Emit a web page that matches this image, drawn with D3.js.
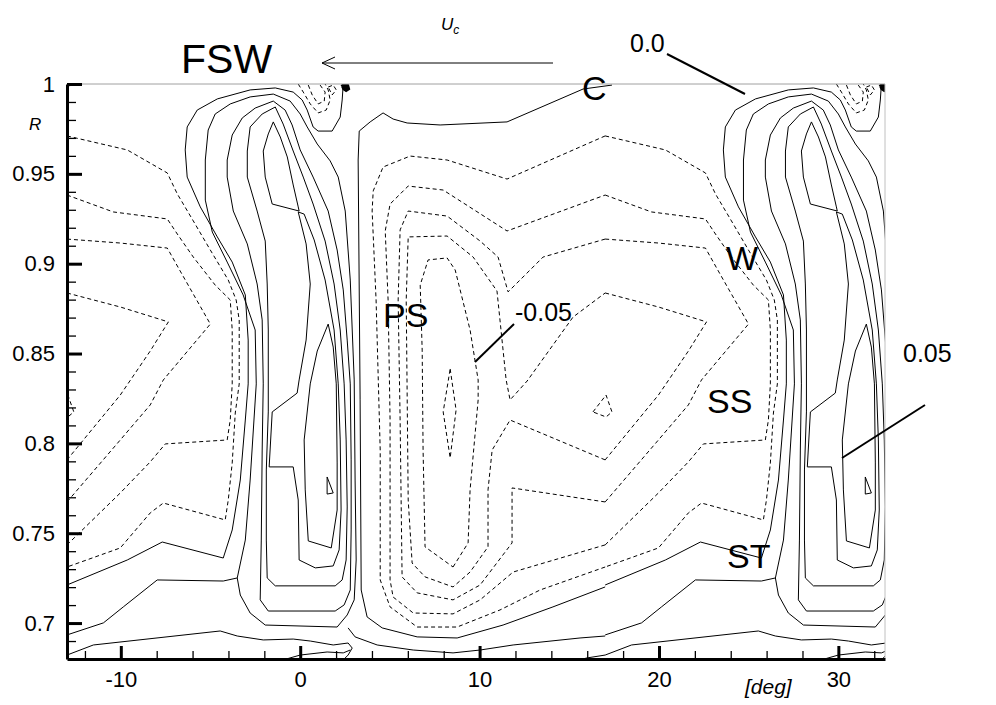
<!DOCTYPE html>
<html>
<head>
<meta charset="utf-8">
<script src="https://cdn.jsdelivr.net/npm/d3@7"></script>
<style>
  body { margin: 0; background: #fff; }
  svg text { font-family: "Liberation Sans", Arial, Helvetica, sans-serif; fill: #000; }
</style>
</head>
<body>
<svg id="chart" width="996" height="705"></svg>
<script>
// field is periodic in theta (one blade pitch), contours traced over [-13, 17] deg
var pitch = 30;
var xMajor = [-10, 0, 10, 20, 30];
var yMajor = [0.7, 0.75, 0.8, 0.85, 0.9, 0.95, 1];

// negative levels (dashed), [deg, R]
var negXa = [[-13,0.9711],[-9.64,0.9633],[-7.41,0.9505],[-6.85,0.9388],[-5.96,0.9238],[-5.01,0.9076],[-4.01,0.8909],[-3.57,0.8798],[-3.40,0.8687],[-3.40,0.8331],[-3.62,0.8169],[-3.79,0.7891],[-4.01,0.7685],[-4.18,0.7574],[-7.63,0.7668],[-8.36,0.7613],[-10.03,0.7418],[-13,0.7312]];
var negXb = [[17,0.7312],[13.37,0.7184],[11.14,0.7073],[8.75,0.6978],[6.52,0.6978],[5.01,0.7090],[4.46,0.7240],[4.46,0.7963],[4.23,0.8798],[4.01,0.9293],[4.07,0.9405],[4.62,0.9538],[6.13,0.9599],[8.19,0.9577],[11.53,0.9471],[17,0.9711]];
var negYa = [[-13,0.9382],[-10.42,0.9288],[-7.41,0.9249],[-6.85,0.9165],[-5.96,0.9037],[-4.74,0.8881],[-3.90,0.8798],[-3.79,0.8631],[-3.79,0.8331],[-3.90,0.8130],[-4.07,0.8019],[-7.52,0.7997],[-8.36,0.7897],[-10.03,0.7724],[-13,0.7435]];
var negYb = [[17,0.7435],[11.87,0.7284],[10.03,0.7129],[8.52,0.7051],[6.30,0.7056],[5.18,0.7145],[5.01,0.7240],[5.01,0.8130],[4.90,0.8798],[4.74,0.9182],[5.01,0.9332],[6.02,0.9432],[7.97,0.9410],[11.53,0.9182],[17,0.9382]];
var negZa = [[-13,0.9137],[-10.03,0.9115],[-7.41,0.9087],[-6.69,0.8959],[-5.01,0.8664],[-7.63,0.8353],[-8.36,0.8214],[-10.03,0.8019],[-13,0.7674]];
var negZb = [[17,0.7674],[11.81,0.7752],[11.81,0.7446],[10.03,0.7212],[8.52,0.7129],[6.52,0.7168],[5.68,0.7257],[5.57,0.8130],[5.46,0.8798],[5.57,0.9188],[6.02,0.9293],[8.19,0.9265],[10.03,0.9126],[11.03,0.9037],[11.59,0.8843],[13.54,0.9037],[17,0.9137]];
var negVa = [[-13,0.8837],[-10.03,0.8759],[-7.35,0.8676],[-8.36,0.8514],[-10.03,0.8269],[-13,0.7908]];
var negVb = [[17,0.7908],[11.70,0.8130],[10.70,0.7963],[10.47,0.7741],[10.47,0.7424],[9.47,0.7284],[8.52,0.7201],[6.96,0.7257],[6.24,0.7334],[6.02,0.7685],[5.91,0.8798],[6.02,0.9149],[8.19,0.9154],[9.64,0.9037],[10.97,0.8848],[11.48,0.8353],[11.70,0.8242],[12.65,0.8347],[15.21,0.8703],[17,0.8837]];
var negPS = [[8.52,0.7312],[9.36,0.7446],[9.47,0.7741],[9.92,0.8242],[9.92,0.8353],[9.47,0.8631],[8.64,0.8965],[8.19,0.9032],[7.13,0.9021],[6.69,0.8881],[6.80,0.8519],[6.85,0.7963],[6.96,0.7424],[8.52,0.7312]];
var negMin = [[8.36,0.8414],[8.69,0.8186],[8.36,0.7919],[7.97,0.8175],[8.36,0.8414]];
var negSS = [[16.32,0.8175],[17.05,0.8269],[17.38,0.8175],[17.05,0.8147],[16.32,0.8175]];
var negTip1 = [[-0.11,1.0],[0.17,0.9955],[0.56,0.9889],[1.00,0.9839],[1.45,0.9855],[1.67,0.9911],[1.56,0.9967],[1.39,1.0]];
var negTip2 = [[0.45,0.9994],[0.67,0.9939],[1.00,0.9889],[1.34,0.9905],[1.39,0.9955],[1.11,0.9994]];
var negTip3 = [[1.56,0.9983],[1.84,0.9994],[2.01,0.9967],[1.78,0.9939],[1.56,0.9983]];

// zero and positive levels (solid)
var zeroWake = [[2.40,1.0],[2.34,0.9911],[2.23,0.9816],[1.78,0.9738],[1.00,0.9738],[0.72,0.9761],[0.39,0.9855],[0.11,0.9911],[-0.39,0.9955],[-1.39,0.9978],[-2.79,0.9967],[-4.62,0.9917],[-5.74,0.9855],[-6.30,0.9761],[-6.41,0.9633],[-6.30,0.9482],[-5.57,0.9316],[-4.62,0.9149],[-3.79,0.9009],[-3.06,0.8826],[-2.90,0.8575],[-2.90,0.8331],[-3.06,0.8130],[-3.34,0.7796],[-3.79,0.7518],[-4.29,0.7362],[-7.69,0.7451],[-9.64,0.7351],[-13,0.7212]];
var zeroPS = [[17,0.7201],[14.09,0.7090],[11.31,0.6989],[8.75,0.6917],[6.52,0.6923],[4.57,0.6973],[3.73,0.7034],[3.40,0.7184],[3.34,0.8242],[3.23,0.9577],[3.29,0.9738],[3.90,0.9789],[4.62,0.9839],[5.18,0.9805],[5.96,0.9783],[7.80,0.9772],[11.53,0.9789],[15.77,0.9972],[17.38,0.9994]];
var pos1Wake = [[-3.51,0.7251],[-3.06,0.7462],[-2.79,0.7796],[-2.45,0.8331],[-2.51,0.8631],[-3.18,0.8826],[-4.07,0.9009],[-4.90,0.9176],[-5.29,0.9354],[-5.29,0.9577],[-5.13,0.9744],[-4.74,0.9833],[-3.90,0.9889],[-2.79,0.9928],[-1.50,0.9944],[-0.56,0.9905],[0,0.9833],[0.39,0.9761],[0.95,0.9666],[1.67,0.9572],[2.12,0.9482],[2.51,0.9293],[2.79,0.8909],[3.01,0.8353],[3.06,0.7796],[3.12,0.7351],[3.01,0.7129],[2.62,0.7045],[2.06,0.6978],[-1.95,0.6989],[-2.79,0.7056],[-3.34,0.7156],[-3.51,0.7251]];
var pos1Hub = [[-13,0.6934],[-10.97,0.7001],[-9.86,0.7090],[-7.97,0.7240],[-4.29,0.7234],[-3.51,0.7251]];
var pos1HubPS = [[2.67,0.6973],[3.06,0.6923],[4.29,0.6878],[6.30,0.6850],[8.52,0.6834],[10.03,0.6850],[11.87,0.6878],[15.60,0.6917],[17,0.6928]];
var pos2Hub = [[-13,0.6822],[-11.53,0.6878],[-4.46,0.6956],[-3.51,0.6928],[-2.06,0.6906],[-0.39,0.6911],[0.56,0.6900],[1.84,0.6878],[2.67,0.6889],[2.90,0.6861],[2.67,0.6822],[2.40,0.6795]];
var pos2HubPS = [[15.32,0.6789],[15.99,0.6806],[17,0.6822]];
var pos3Hub = [[-0.95,0.6795],[0,0.6822],[1.50,0.6839],[2.40,0.6834],[2.79,0.6850]];
var pos2Wake = [[-4.07,0.9577],[-3.79,0.9716],[-3.23,0.9811],[-2.51,0.9866],[-1.50,0.9905],[-0.84,0.9855],[-0.45,0.9772],[0,0.9633],[0.72,0.9482],[1.56,0.9293],[2.06,0.9076],[2.40,0.8854],[2.62,0.8575],[2.79,0.8331],[2.84,0.7908],[2.84,0.7518],[2.79,0.7184],[2.45,0.7101],[1.95,0.7067],[-1.78,0.7067],[-2.23,0.7129],[-2.17,0.7462],[-2.12,0.7963],[-2.06,0.8331],[-2.12,0.8687],[-2.40,0.8887],[-2.95,0.9110],[-3.73,0.9293],[-4.07,0.9482],[-4.07,0.9577]];
var pos3Wake = [[-1.39,0.9872],[-0.95,0.9777],[-0.39,0.9627],[0.17,0.9482],[0.72,0.9332],[1.39,0.9126],[1.89,0.8887],[2.23,0.8631],[2.45,0.8331],[2.56,0.8019],[2.62,0.7646],[2.56,0.7351],[2.34,0.7240],[1.95,0.7207],[-1.39,0.7207],[-1.84,0.7251],[-1.89,0.7462],[-1.89,0.7852],[-1.78,0.8175],[-1.78,0.8631],[-1.84,0.8887],[-1.95,0.9126],[-2.40,0.9293],[-2.95,0.9482],[-2.95,0.9627],[-2.79,0.9761],[-2.12,0.9833],[-1.39,0.9872]];
var pos4Tip = [[-1.50,0.9789],[-1.11,0.9705],[-0.72,0.9594],[-0.39,0.9438],[-0.11,0.9316],[-0.06,0.9293],[-1.56,0.9332],[-1.95,0.9482],[-2.06,0.9627],[-1.78,0.9722],[-1.50,0.9789]];
var pos4Hub = [[-0.11,0.9288],[0.33,0.9110],[0.56,0.8887],[0.33,0.8575],[-0.06,0.8353],[-0.17,0.8280],[-1.56,0.8175],[-1.73,0.7869],[-0.39,0.7869],[-0.11,0.7685],[-0.06,0.7351],[0.84,0.7307],[1.84,0.7318],[2.17,0.7407],[2.28,0.7629],[2.23,0.8019],[2.12,0.8331],[1.89,0.8631],[1.39,0.8909],[0.78,0.9132],[0.22,0.9276],[-0.11,0.9288]];
var pos5 = [[1.56,0.8664],[1.84,0.8536],[2.01,0.8331],[2.06,0.7891],[2.06,0.7629],[1.73,0.7418],[0.45,0.7457],[0.28,0.7741],[0.22,0.8019],[0.56,0.8331],[0.95,0.8514],[1.56,0.8664]];
var pos6 = [[1.50,0.7813],[1.84,0.7724],[1.50,0.7718],[1.50,0.7813]];
var tipBlob = [[2.28,0.9989],[2.45,1.0],[2.67,0.9994],[2.73,0.9972],[2.56,0.9961],[2.40,0.9972],[2.34,0.9985]];

var contours = [
  {neg: true, p: negXa}, {neg: true, p: negXb}, {neg: true, p: negYa}, {neg: true, p: negYb},
  {neg: true, p: negZa}, {neg: true, p: negZb}, {neg: true, p: negVa}, {neg: true, p: negVb},
  {neg: true, p: negPS}, {neg: true, p: negMin}, {neg: true, p: negSS},
  {neg: true, p: negTip1}, {neg: true, p: negTip2}, {neg: true, p: negTip3},
  {neg: false, p: zeroWake}, {neg: false, p: zeroPS},
  {neg: false, p: pos1Wake}, {neg: false, p: pos1Hub}, {neg: false, p: pos1HubPS},
  {neg: false, p: pos2Hub}, {neg: false, p: pos2HubPS}, {neg: false, p: pos3Hub},
  {neg: false, p: pos2Wake}, {neg: false, p: pos3Wake}, {neg: false, p: pos4Tip},
  {neg: false, p: pos4Hub}, {neg: false, p: pos5}, {neg: false, p: pos6}
];

var svg = d3.select('#chart');
var plotL = 67, plotR = 885, plotT = 84, plotB = 659;

var x = d3.scaleLinear().domain([-13, 32.6]).range([plotL, plotR]);
var y = d3.scaleLinear().domain([0.68, 1.0]).range([plotB, plotT]);

svg.append('clipPath').attr('id', 'plotClip')
  .append('rect').attr('x', plotL).attr('y', plotT).attr('width', plotR - plotL).attr('height', plotB - plotT);

var line = d3.line().x(function(d) { return x(d[0]); }).y(function(d) { return y(d[1]); });

var plot = svg.append('g').attr('clip-path', 'url(#plotClip)');

// draw one period and its neighbours
[-pitch, 0, pitch].forEach(function(off) {
  plot.append('g').selectAll('path')
    .data(contours)
    .join('path')
    .attr('d', function(c) { return line(c.p.map(function(q) { return [q[0] + off, q[1]]; })); })
    .attr('fill', 'none')
    .attr('stroke', '#000')
    .attr('stroke-width', 1)
    .attr('stroke-dasharray', function(c) { return c.neg ? '4,3' : null; });

  plot.append('path')
    .attr('d', line(tipBlob.map(function(q) { return [q[0] + off, q[1]]; })))
    .attr('fill', '#000').attr('stroke', '#000').attr('stroke-width', 2);
});

// frame: thin grey top/right
svg.append('line').attr('x1', plotL).attr('x2', plotR).attr('y1', plotT).attr('y2', plotT)
  .attr('stroke', '#a0a0a0').attr('stroke-width', 1);
svg.append('line').attr('x1', plotR).attr('x2', plotR).attr('y1', plotT).attr('y2', plotB)
  .attr('stroke', '#c0c0c0').attr('stroke-width', 1);

// axes, ticks point inward
var xMinor = d3.range(-12, 33, 2).filter(function(v) { return v % 10 !== 0; });
var yMinor = d3.range(0.69, 1.0, 0.01).filter(function(v) { return Math.abs(v * 20 - Math.round(v * 20)) > 1e-6; });

var xAxis = svg.append('g').attr('transform', 'translate(0,' + plotB + ')');
xAxis.append('g').call(d3.axisBottom(x).tickValues(xMinor).tickSize(-8).tickSizeOuter(0).tickFormat(''))
  .call(function(g) { g.select('.domain').remove(); g.selectAll('line').attr('stroke-width', 1.3); });
xAxis.append('g').call(d3.axisBottom(x).tickValues(xMajor).tickSize(-13).tickSizeOuter(0).tickPadding(12).tickFormat(function(d) { return String(d); }))
  .call(function(g) {
    g.select('.domain').attr('stroke-width', 3);
    g.selectAll('line').attr('stroke-width', 3);
    g.selectAll('text').attr('font-size', 22);
  });

var yAxis = svg.append('g').attr('transform', 'translate(' + plotL + ',0)');
yAxis.append('g').call(d3.axisLeft(y).tickValues(yMinor).tickSize(-9).tickSizeOuter(0).tickFormat(''))
  .call(function(g) { g.select('.domain').remove(); g.selectAll('line').attr('stroke-width', 1.3); });
yAxis.append('g').call(d3.axisLeft(y).tickValues(yMajor).tickSize(-15).tickSizeOuter(0).tickPadding(12).tickFormat(function(d) { return String(d); }))
  .call(function(g) {
    g.select('.domain').attr('stroke-width', 3);
    g.selectAll('line').attr('stroke-width', 3);
    g.selectAll('text').attr('font-size', 22);
  });

// axis titles
svg.append('text').attr('x', 29).attr('y', 130).attr('font-size', 17).attr('font-style', 'italic').text('R');
svg.append('text').attr('x', 745).attr('y', 694).attr('font-size', 21).attr('font-style', 'italic').text('[deg]');

// annotations
var ann = svg.append('g');
ann.append('text').attr('x', 181).attr('y', 73).attr('font-size', 41).text('FSW');
ann.append('line').attr('x1', 322).attr('y1', 63).attr('x2', 553).attr('y2', 63).attr('stroke', '#000').attr('stroke-width', 1);
ann.append('path').attr('d', 'M335,57 L322,63 L335,69').attr('fill', 'none').attr('stroke', '#000').attr('stroke-width', 1);
var uc = ann.append('text').attr('x', 441).attr('y', 30).attr('font-size', 17).attr('font-style', 'italic');
uc.append('tspan').text('U');
uc.append('tspan').attr('font-size', 12).attr('dy', 4).text('c');

ann.append('text').attr('x', 630).attr('y', 52).attr('font-size', 25).text('0.0');
ann.append('line').attr('x1', 667).attr('y1', 54).attr('x2', 745).attr('y2', 94).attr('stroke', '#000').attr('stroke-width', 2);

ann.append('text').attr('x', 582).attr('y', 100).attr('font-size', 34).text('C');
ann.append('text').attr('x', 383).attr('y', 327).attr('font-size', 34).text('PS');
ann.append('text').attr('x', 515).attr('y', 321).attr('font-size', 25).text('-0.05');
ann.append('line').attr('x1', 514).attr('y1', 324).attr('x2', 475).attr('y2', 362).attr('stroke', '#000').attr('stroke-width', 2);
ann.append('text').attr('x', 726).attr('y', 270).attr('font-size', 34).text('W');
ann.append('text').attr('x', 707).attr('y', 413).attr('font-size', 34).text('SS');
ann.append('text').attr('x', 727).attr('y', 568).attr('font-size', 34).text('ST');
ann.append('text').attr('x', 903).attr('y', 362).attr('font-size', 25).text('0.05');
ann.append('line').attr('x1', 842).attr('y1', 458).attr('x2', 925).attr('y2', 405).attr('stroke', '#000').attr('stroke-width', 2);
</script>
</body>
</html>
